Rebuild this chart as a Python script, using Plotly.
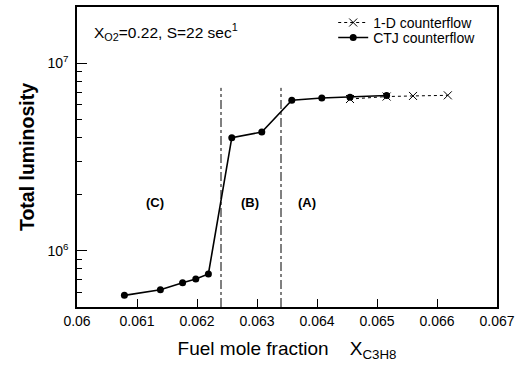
import math
import plotly.graph_objects as go

# CTJ counterflow data
ctj_x = [0.06079, 0.06139, 0.06176, 0.06198, 0.06219, 0.06258, 0.06308, 0.06358, 0.06408, 0.06455, 0.06516]
ctj_y = [5.77e5, 6.18e5, 6.73e5, 7.06e5, 7.51e5, 4.01e6, 4.30e6, 6.36e6, 6.53e6, 6.59e6, 6.73e6]

# 1-D counterflow data
od_x = [0.06455, 0.06516, 0.06560, 0.06618]
od_y = [6.45e6, 6.65e6, 6.70e6, 6.75e6]

# Regime boundaries
bound_x = [0.0624, 0.0634]
bound_y = [5e5, 7.4e6]

# Region labels
region_text = ["(C)", "(B)", "(A)"]
region_x = [0.0613, 0.06288, 0.06383]
region_y = 1.8e6

# Axes
x_range = [0.060, 0.067]
y_range_log = [5.699, 7.301]
xticks = [0.060, 0.061, 0.062, 0.063, 0.064, 0.065, 0.066, 0.067]
xticktext = ["0.06", "0.061", "0.062", "0.063", "0.064", "0.065", "0.066", "0.067"]
yticks = [1e6, 1e7]
yticktext = ["10<sup>6</sup>", "10<sup>7</sup>"]
yminor = [6e5, 7e5, 8e5, 9e5, 2e6, 3e6, 4e6, 5e6, 6e6, 7e6, 8e6, 9e6]

FONT = "Liberation Sans, Arial, sans-serif"

fig = go.Figure()

for bx in bound_x:
    fig.add_trace(go.Scatter(x=[bx, bx], y=bound_y, mode="lines",
                             line=dict(color="black", width=1, dash="dashdot"),
                             showlegend=False, hoverinfo="skip"))

fig.add_trace(go.Scatter(x=od_x, y=od_y, mode="lines+markers", name="1-D counterflow",
                         line=dict(color="black", width=1, dash="dot"),
                         marker=dict(symbol="x-thin-open", size=8, color="black",
                                     line=dict(width=1, color="black")),
                         legend="legend"))

fig.add_trace(go.Scatter(x=ctj_x, y=ctj_y, mode="lines+markers", name="CTJ counterflow",
                         line=dict(color="black", width=1.6),
                         marker=dict(symbol="circle", size=7, color="black"),
                         legend="legend2"))

for t, x in zip(region_text, region_x):
    fig.add_annotation(x=x, y=math.log10(region_y), xref="x", yref="y", yanchor="middle",
                       text="<b>" + t + "</b>", showarrow=False,
                       font=dict(family=FONT, size=13, color="black"))

fig.add_annotation(x=0.036, y=0.915, xref="paper", yref="paper", xanchor="left", yanchor="middle",
                   text="X<sub>O2</sub>=0.22, S=22 sec<sup>1</sup>", showarrow=False,
                   font=dict(family=FONT, size=15.5, color="black"))

leg_common = dict(xanchor="left", yanchor="middle", bgcolor="rgba(0,0,0,0)",
                  font=dict(family=FONT, size=14), itemwidth=30)

fig.update_layout(
    width=521, height=374,
    margin=dict(l=77, r=24, t=5, b=67),
    plot_bgcolor="white", paper_bgcolor="white",
    font=dict(family=FONT, color="black"),
    showlegend=True,
    legend=dict(x=0.61, y=0.947, **leg_common),
    legend2=dict(x=0.61, y=0.897, **leg_common),
)

fig.update_xaxes(range=x_range, tickmode="array", tickvals=xticks, ticktext=xticktext,
                 ticks="inside", ticklen=8, tickwidth=1, tickcolor="black",
                 showline=True, linecolor="black", linewidth=1.5, mirror=True,
                 showgrid=False, zeroline=False,
                 tickfont=dict(family=FONT, size=14),
                 title=dict(text="Fuel mole fraction    X<sub>C3H8</sub>",
                            font=dict(family=FONT, size=19), standoff=14))

fig.update_yaxes(type="log", range=y_range_log, tickmode="array", tickvals=yticks, ticktext=yticktext,
                 ticks="inside", ticklen=10, tickwidth=1, tickcolor="black",
                 minor=dict(tickmode="array", tickvals=yminor, ticks="inside", ticklen=5,
                            tickcolor="black", tickwidth=1, showgrid=False),
                 showline=True, linecolor="black", linewidth=1.5, mirror=True,
                 showgrid=False, zeroline=False, ticklabelstandoff=4,
                 tickfont=dict(family=FONT, size=14),
                 title=dict(text="<b>Total luminosity</b>",
                            font=dict(family=FONT, size=19.5), standoff=8))

fig.write_html("out.html", config={"displayModeBar": False},
               post_script="document.body.style.margin='0';")
